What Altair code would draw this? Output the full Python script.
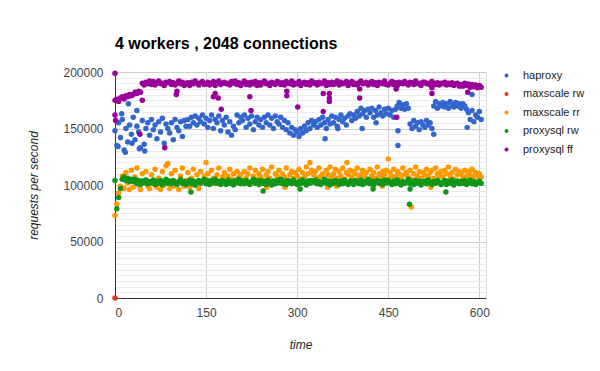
import altair as alt
import pandas as pd

FONT = "Liberation Sans"

# sample times (seconds) for the dense series
time_s = list(range(0, 606, 3))

# values in thousands of requests per second
haproxy_k = [
    148, 135, 155, 142, 158, 131, 150, 138, 153, 145,
    160, 140, 152, 147, 133, 157, 136, 150, 155, 144,
    158, 149, 153, 141, 156, 147, 159, 137, 154, 150,
    146, 155, 140, 158, 151, 148, 156, 143, 157, 152,
    158, 152, 160, 155, 161, 153, 159, 156, 162, 154,
    159, 151, 157, 162, 150, 158, 155, 161, 148, 157,
    153, 160, 147, 156, 144, 152, 149, 162, 155, 160,
    157, 162, 151, 159, 154, 161, 149, 156, 160, 153,
    158, 151, 160, 155, 162, 153, 159, 150, 161, 156,
    154, 160, 151, 157, 149, 155, 146, 151, 144, 149,
    147, 143, 150, 146, 152, 148, 155, 150, 157, 153,
    156, 151, 158, 153, 160, 155, 150, 158, 154, 161,
    155, 160, 152, 158, 162, 156, 159, 153, 161, 163,
    157, 162, 159, 165, 161, 168, 163, 166, 160, 167,
    164, 168, 160, 166, 162, 169, 164, 161, 167, 163,
    168, 162, 166, 160, 167, 170, 173, 168, 171, 167,
    172, 168, 154, 150, 157, 152, 155, 149, 156, 153,
    151, 157, 153, 155, 150, 170, 174, 168, 172, 170,
    173, 169, 172, 168, 174, 171, 169, 173, 170, 172,
    168, 172, 170, 167, 164, 158, 166, 156, 162, 160,
    165, 158,
]
maxscale_rr_k = [
    73, 83, 93, 99, 108, 97, 111, 102, 96, 113,
    98, 107, 115, 100, 96, 110, 104, 112, 99, 97,
    109, 101, 114, 98, 106, 96, 112, 100, 117, 103,
    97, 110, 99, 113, 101, 96, 108, 115, 99, 104,
    111, 98, 106, 114, 100, 109, 97, 112, 103, 108,
    105, 110, 103, 113, 106, 101, 109, 115, 104, 107,
    111, 103, 108, 114, 105, 110, 102, 112, 107, 109,
    104, 112, 106, 110, 115, 103, 108, 113, 105, 110,
    107, 114, 104, 109, 112, 106, 116, 103, 110, 108,
    113, 105, 110, 107, 115, 104, 109, 112, 106, 111,
    108, 114, 105, 111, 107, 116, 110, 104, 113, 109,
    112, 106, 115, 108, 110, 105, 113, 109, 116, 107,
    110, 114, 106, 112, 108, 115, 105, 111, 109, 113,
    107, 112, 110, 115, 106, 109, 113, 108, 111, 104,
    114, 108, 111, 106, 116, 110, 107, 112, 109, 113,
    105, 111, 108, 114, 107, 112, 110, 106, 115, 109,
    111, 107, 113, 105, 110, 116, 108, 112, 106, 111,
    109, 114, 107, 111, 113, 106, 115, 110, 108, 112,
    107, 113, 110, 116, 108, 111, 105, 114, 109, 112,
    110, 106, 113, 108, 112, 109, 114, 107, 111, 108,
    110, 107,
]
proxysql_rw_k = [
    104, 79, 89, 97, 105, 107, 104, 106, 103, 105,
    103, 105, 101.5, 104, 100.5, 103.5, 102, 104.5, 101, 103,
    102, 104.5, 100.5, 103, 101.5, 104, 100, 102.5, 105, 101.5,
    103.5, 101, 104, 102, 100.5, 103, 105, 101.5, 103, 100.5,
    102.5, 104.5, 101, 103.5, 100, 102.5, 104, 101.5, 103, 105,
    101, 103.5, 100.5, 104, 102, 105, 101.5, 103, 100.5, 104,
    102.5, 100.5, 104.5, 101.5, 103, 100, 104, 102, 105, 101,
    103.5, 101, 104, 102, 100.5, 103, 105, 101.5, 103.5, 100.5,
    104, 101.5, 103, 100.5, 104.5, 102, 100, 103.5, 101, 104,
    102, 105, 101, 103.5, 100.5, 104, 102.5, 101, 104.5, 102,
    100.5, 103, 101.5, 104.5, 102, 100, 103.5, 101.5, 104, 102.5,
    104.5, 101, 103, 100.5, 102.5, 105, 101.5, 103.5, 100, 103,
    101.5, 104, 102, 100.5, 103.5, 101, 104.5, 102, 100.5, 103.5,
    103, 100.5, 104, 102.5, 101, 104.5, 100.5, 103, 102, 105,
    101, 103.5, 100, 102.5, 104, 101.5, 103, 100.5, 104.5, 102,
    104, 102, 100.5, 103.5, 101, 104.5, 102, 100, 103, 101.5,
    102.5, 105, 101, 103, 100.5, 104, 101.5, 103.5, 100, 102.5,
    103.5, 101, 104.5, 102, 100.5, 103, 101.5, 104, 102.5, 100.5,
    102, 104, 100.5, 103.5, 101.5, 104.5, 100, 102.5, 103.5, 101,
    103, 101.5, 104, 100.5, 102.5, 104.5, 101, 103, 100.5, 102,
    103.5, 101.5,
]
proxysql_ff_k = [
    175, 176, 174, 177, 178, 176, 179, 178, 180, 179,
    180, 182, 181, 183, 182, 190, 188.5, 191, 189.5, 192,
    189, 191.5, 188.5, 190.5, 192, 189.5, 190, 188, 191, 190.5,
    191.5, 189, 190.5, 188.5, 190, 192, 189.5, 191, 188, 190,
    190.5, 188, 191, 189.5, 192, 190, 188.5, 190.5, 191.5, 189,
    189.5, 191, 188.5, 190, 191.5, 188, 190.5, 192, 189, 190,
    191, 189.5, 190, 188.5, 191.5, 190, 192, 189, 190.5, 188,
    190, 192, 189, 190.5, 188.5, 191, 189.5, 191.5, 188, 190.5,
    188.5, 190.5, 192, 189.5, 190, 188, 191, 190, 189, 191.5,
    191, 189, 190.5, 188.5, 191.5, 190, 189.5, 192, 188.5, 190,
    189.5, 191.5, 188, 190, 191, 189, 190.5, 188.5, 192, 190,
    190.5, 188.5, 191, 189.5, 190, 192, 188, 190.5, 189, 191,
    189, 190.5, 192, 188.5, 191, 189.5, 190, 191.5, 188, 190,
    191.5, 189, 190, 188.5, 190.5, 192, 189.5, 190, 191, 188.5,
    190, 191.5, 189, 190.5, 188, 191, 190, 189.5, 192, 189,
    188.5, 190, 191.5, 189, 190.5, 188, 191, 190, 189.5, 191.5,
    190, 188.5, 191, 190.5, 189, 192, 189.5, 190, 188, 191,
    191, 189.5, 190, 188.5, 191.5, 190, 189, 190.5, 188.5, 190,
    189.5, 191, 188.5, 190, 189, 190.5, 188, 189.5, 190, 187.5,
    189, 187.5, 190, 188, 189.5, 186.5, 189, 187, 188.5, 186,
    188, 186.5,
]

# isolated points (time s, thousands)
haproxy_extra_t = [11, 22, 36, 49, 5, 17, 28, 40, 346, 466, 466, 525, 588, 407, 430, 580, 367]
haproxy_extra_k = [163, 172, 166, 130, 134, 129, 137, 132, 141, 148, 135, 145, 180, 150, 155, 151, 150]
maxscale_rw_t = [0]
maxscale_rw_k = [0]
maxscale_rr_extra_t = [87, 150, 321, 382, 450, 488, 250, 280, 350, 365, 440, 520]
maxscale_rr_extra_k = [119, 120, 120, 120, 123, 80.5, 98, 98, 98, 99, 99, 98]
proxysql_rw_extra_t = [125, 244, 305, 425, 486, 485, 545]
proxysql_rw_extra_k = [93.8, 94.7, 96.5, 96.5, 96.5, 83, 93.8]
proxysql_ff_extra_t = [0, 0, 1, 41, 45, 82, 101, 102, 162, 165, 170, 175, 222, 224, 283, 283,
                       301, 343, 343, 353, 353, 353, 403, 403, 463, 464, 522, 522, 581]
proxysql_ff_extra_k = [199, 162, 157, 145, 175, 133, 180, 183, 178, 181, 177, 167, 178, 166, 183, 179,
                       169, 181, 165, 181, 177, 174, 185, 177, 185, 160, 186, 181, 182]

series_order = ["haproxy", "maxscale rw", "maxscale rr", "proxysql rw", "proxysql ff"]
colors = ["#3366cc", "#dc3912", "#ff9900", "#109618", "#990099"]

parts = [
    ("haproxy", time_s + haproxy_extra_t, haproxy_k + haproxy_extra_k),
    ("maxscale rw", maxscale_rw_t, maxscale_rw_k),
    ("maxscale rr", time_s + maxscale_rr_extra_t, maxscale_rr_k + maxscale_rr_extra_k),
    ("proxysql rw", time_s + proxysql_rw_extra_t, proxysql_rw_k + proxysql_rw_extra_k),
    ("proxysql ff", time_s + proxysql_ff_extra_t, proxysql_ff_k + proxysql_ff_extra_k),
]
rows = []
for name, ts, vs in parts:
    for t, v in zip(ts, vs):
        rows.append({"time": t, "rps": v * 1000, "series": name})
df = pd.DataFrame(rows)

x_scale = alt.Scale(domain=[0, 611], nice=False, zero=False)
y_scale = alt.Scale(domain=[0, 200000], nice=False)

x_axis = alt.Axis(
    values=[0, 150, 300, 450, 600], grid=True, gridColor="#cccccc",
    domainColor="#333333", ticks=False, tickSize=0,
    labelFont=FONT, labelFontSize=12, labelColor="#444444", labelPadding=9,
    title="time", titleFont=FONT, titleFontSize=12, titleFontStyle="italic",
    titleFontWeight="normal", titleColor="#222222",
    titleX=185.5, titleY=46, titleAlign="center", titleBaseline="middle")

minor_vals = [v for v in range(5000, 200000, 5000) if v % 50000 != 0]

minor = alt.Chart(df).mark_circle(opacity=0).encode(
    x=alt.X("time:Q", scale=x_scale, axis=x_axis),
    y=alt.Y("rps:Q", scale=y_scale, axis=alt.Axis(
        orient="right", values=minor_vals, grid=True, gridColor="#ebebeb",
        labels=False, ticks=False, domain=False, title="")),
)

points = alt.Chart(df).mark_circle(size=30, opacity=1).encode(
    x=alt.X("time:Q", scale=x_scale, axis=x_axis),
    y=alt.Y("rps:Q", scale=y_scale, axis=alt.Axis(
        orient="left", values=[0, 50000, 100000, 150000, 200000], format="d",
        grid=True, gridColor="#cccccc", domainColor="#333333", ticks=False, tickSize=0,
        labelFont=FONT, labelFontSize=12, labelColor="#444444", labelPadding=12,
        title="requests per second", titleFont=FONT, titleFontSize=12,
        titleFontStyle="italic", titleFontWeight="normal", titleColor="#222222",
        titleX=-82, titleY=113, titleAngle=270, titleAlign="center", titleBaseline="middle")),
    color=alt.Color("series:N", scale=alt.Scale(domain=series_order, range=colors),
                    legend=alt.Legend(
                        title=None, orient="none", legendX=386, legendY=-2, padding=0,
                        symbolType="circle", symbolSize=16, symbolOpacity=1,
                        labelFont=FONT, labelFontSize=11, labelColor="#222222",
                        labelOffset=11, rowPadding=6.5)),
)

chart = alt.layer(minor, points).resolve_axis(y="independent").properties(
    width=371, height=226,
    title=alt.TitleParams("4 workers , 2048 connections", anchor="start", frame="group",
                          font=FONT, fontSize=16, fontWeight="bold", color="#000000",
                          offset=14),
    autosize=alt.AutoSizeParams(type="none"),
    padding={"left": 115, "top": 72, "right": 114, "bottom": 73},
).configure_view(stroke=None).configure(background="white")

chart.save("out.html", embed_options={"renderer": "svg", "actions": False})
